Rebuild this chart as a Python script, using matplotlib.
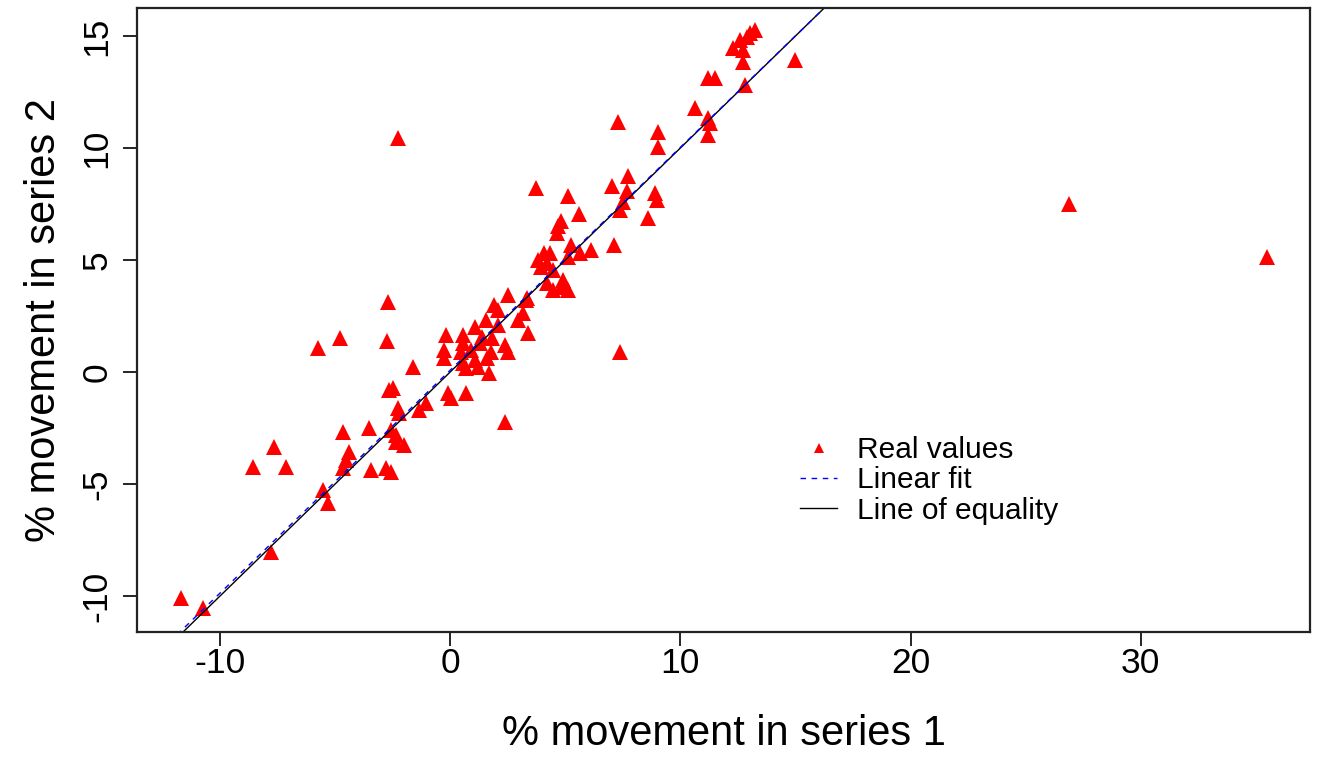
import matplotlib
matplotlib.use("Agg")
import matplotlib.pyplot as plt
import numpy as np

plt.rcParams['font.family'] = ['Liberation Sans', 'DejaVu Sans']
plt.rcParams['axes.unicode_minus'] = False

# % movement readings (series 1, series 2)
series1 = [
    13.25, 13.04, 12.9, 12.6, 12.3, 12.73, 12.73, 15.0, 11.2, 11.5, 12.8,
    10.65, 11.2, 11.3, 11.2, 9.05, 9.05, 7.3,
    3.71, 5.14, 7.74, 7.05, 7.7, 7.53, 7.4, 8.9, 9.0, 8.6, 5.6, 4.8, 4.7, 4.66,
    3.8, 4.06, 4.36, 4.23, 4.49, 3.93, 5.1, 5.23, 5.66, 6.1, 7.1,
    4.8, 5.1, 4.23, 4.45, 4.92, 3.36,
    2.5, 1.9, 2.06, 3.28, 3.15, 2.93, 3.4, -0.2, -0.28, -0.28, 0.54, 0.54,
    0.46, 1.1, 1.4, 1.3, 1.84, 2.4, 2.5, 1.76, 0.54, 0.67, 1.1, 1.2, 1.6,
    1.67, -1.6, -0.07, 0.02, 0.67, 2.4, 0.9, 2.06, 1.54,
    -2.67, -2.5, -2.28, -2.23, -1.37, -1.06, -4.66, -3.54, -2.58, -2.36,
    -2.36, -2.0, -4.4, -4.53, -4.66, -3.45, -2.8, -2.58, -7.66, -8.57, -7.14,
    -5.5, -5.3, -7.79, -11.7, -10.74,
    -2.71, -4.79, -5.75, -2.75, -2.28,
    35.47, 26.88, 7.4,
]
series2 = [
    15.27, 15.13, 14.96, 14.8, 14.46, 14.38, 13.84, 13.93, 13.13, 13.13, 12.8,
    11.79, 11.34, 11.1, 10.58, 10.71, 10.04, 11.16,
    8.21, 7.86, 8.75, 8.3, 8.1, 7.6, 7.23, 8.0, 7.68, 6.88, 7.05, 6.75, 6.5, 6.2,
    5.0, 5.31, 5.31, 4.87, 4.55, 4.69, 5.13, 5.67, 5.31, 5.45, 5.67,
    3.8, 3.66, 3.97, 3.66, 4.1, 3.3,
    3.44, 3.0, 2.77, 3.2, 2.63, 2.32, 1.74, 1.65, 0.98, 0.63, 1.65, 1.3,
    0.9, 2.0, 1.56, 1.3, 1.52, 1.2, 0.9, 0.9, 0.4, 0.18, 0.54, 0.22, 0.63,
    -0.05, 0.22, -0.94, -1.16, -0.94, -2.23, 1.0, 2.1, 2.32,
    -0.8, -0.71, -1.6, -1.83, -1.7, -1.38, -2.68, -2.5, -2.6, -2.8,
    -3.1, -3.26, -3.57, -3.93, -4.3, -4.38, -4.29, -4.46, -3.35, -4.24, -4.24,
    -5.27, -5.85, -8.04, -10.1, -10.54,
    3.12, 1.52, 1.07, 1.38, 10.45,
    5.13, 7.5, 0.9,
]

fit_slope = 0.995
fit_intercept = 0.08

x_ticks = [-10, 0, 10, 20, 30]
y_ticks = [-10, -5, 0, 5, 10, 15]

fig = plt.figure(figsize=(13.19, 7.61), dpi=100)
ax = fig.add_axes([137 / 1319, 129 / 761, 1173 / 1319, 624 / 761])

ax.plot(series1, series2, linestyle='none', marker='^', color='red',
        markersize=11, markeredgewidth=0, label='Real values')

xlim = (-13.6, 37.35)
ylim = (-11.6, 16.25)
xs = np.array(xlim)
ax.plot(xs, xs, color='black', linewidth=1, label='Line of equality')
ax.plot(xs, fit_slope * xs + fit_intercept, color='blue', linestyle=(0, (4, 4)),
        linewidth=1, label='Linear fit')

ax.set_xlim(xlim)
ax.set_ylim(ylim)
ax.set_xticks(x_ticks)
ax.set_yticks(y_ticks)
ax.tick_params(direction='out', length=10, width=1.2, labelsize=25.5)
ax.tick_params(axis='x', pad=1)
ax.tick_params(axis='y', pad=7)
for lab in ax.get_yticklabels():
    lab.set_rotation(90)
    lab.set_va('center')

for sp in ax.spines.values():
    sp.set_linewidth(1.6)
    sp.set_color('#222222')

ax.set_xlabel('% movement in series 1', fontsize=30, labelpad=24)
ax.set_ylabel('% movement in series 2', fontsize=30, labelpad=12)

h, l = ax.get_legend_handles_labels()
order = [0, 2, 1]
leg = ax.legend([h[i] for i in order], [l[i] for i in order],
                loc='upper left', bbox_to_anchor=(800 / 1319, 1 - 436 / 761),
                bbox_transform=fig.transFigure, frameon=False, fontsize=21.5,
                handlelength=1.25, handletextpad=0.65, labelspacing=0.08,
                borderpad=0, borderaxespad=0, markerscale=0.7)

fig.savefig('out.png', dpi=100)
